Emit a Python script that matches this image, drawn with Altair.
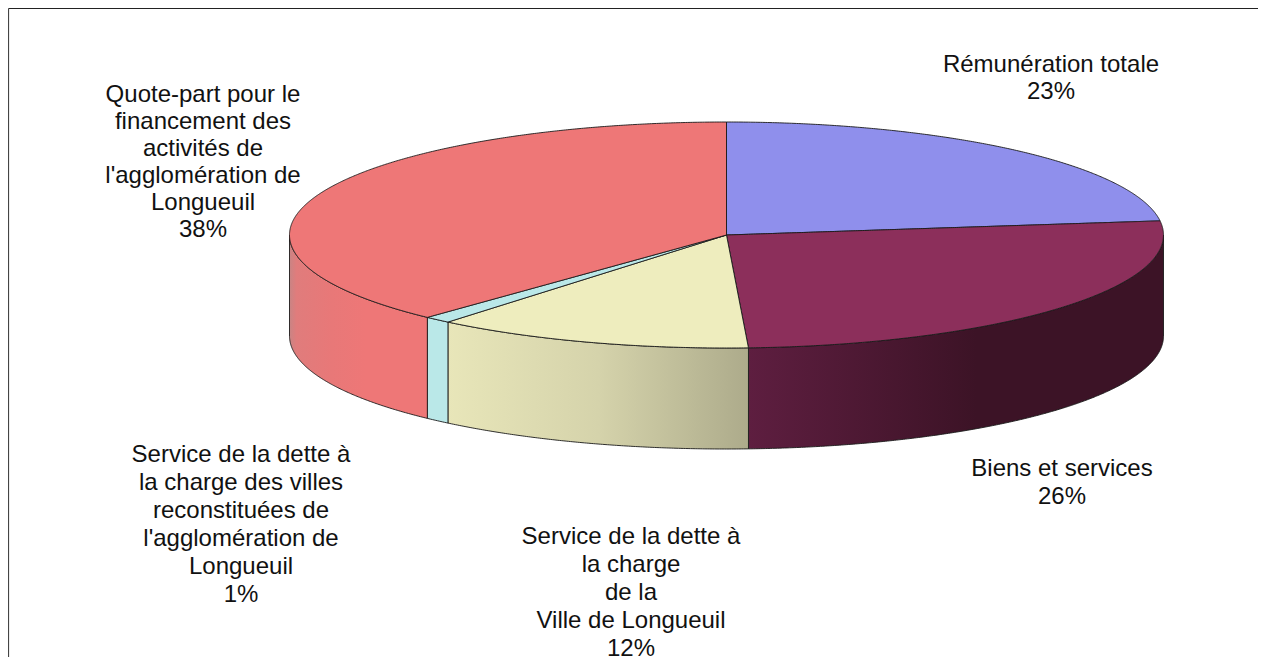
import numpy as np
import pandas as pd
import altair as alt

# Slice values, clockwise from 12 o'clock (percent)
shares = [23.0, 26.2, 11.8, 1.0, 38.0]
top_colors = ["#8F8FEC", "#8C2F5B", "#EEEDBE", "#BAE8E8", "#EE7777"]
side_stops = [
    [("#8F8FEC", 0), ("#8F8FEC", 1)],
    [("#5E1E40", 0), ("#3C1326", 0.55), ("#3C1326", 1)],
    [("#E8E6B9", 0), ("#D5D3AB", 0.5), ("#ADAB8B", 1)],
    [("#BAE8E8", 0), ("#BAE8E8", 1)],
    [("#C98484", 0), ("#E07C7C", 0.05), ("#E87878", 0.3), ("#EE7777", 0.55), ("#EE7777", 1)],
]

label_texts = [
    "Rémunération totale\n23%",
    "Biens et services\n26%",
    "Service de la dette à\nla charge\nde la\nVille de Longueuil\n12%",
    "Service de la dette à\nla charge des villes\nreconstituées de\nl'agglomération de\nLongueuil\n1%",
    "Quote-part pour le\nfinancement des\nactivités de\nl'agglomération de\nLongueuil\n38%",
]
label_x = [1051, 1062, 631, 241, 203]
label_y = [53, 457, 525, 443, 83]
label_line_height = [27, 28, 28, 28, 27]

# Pie geometry
CX, CY, RX, RY, DEPTH = 726.5, 235.0, 437.0, 113.0, 101.0
x_scale = alt.Scale(domain=[8, 1258], nice=False, zero=False)
y_scale = alt.Scale(domain=[657, 8], nice=False, zero=False)
OUTLINE = "#1a1a1a"


def ellipse(t):
    return CX + RX * np.sin(t), CY - RY * np.cos(t)


def wedge_frame(t0, t1):
    """Convex slice as an x-sorted table of upper and lower edges."""
    ts = np.linspace(t0, t1, max(int((t1 - t0) * 180) + 2, 6))
    px, py = ellipse(ts)
    px = np.r_[CX, px]
    py = np.r_[CY, py]
    rows = []
    n = len(px)
    for x in np.unique(np.round(px, 3)):
        hits = []
        for i in range(n):
            a, b = i, (i + 1) % n
            if min(px[a], px[b]) - 1e-3 <= x <= max(px[a], px[b]) + 1e-3:
                if abs(px[b] - px[a]) < 1e-6:
                    hits += [py[a], py[b]]
                else:
                    hits.append(py[a] + (x - px[a]) / (px[b] - px[a]) * (py[b] - py[a]))
        rows.append({"x": float(x), "y": float(min(hits)), "y2": float(max(hits))})
    return pd.DataFrame(rows)


edges = np.cumsum([0.0] + shares) / sum(shares) * 2 * np.pi
layers = []


def enc(chart):
    return chart.encode(
        x=alt.X("x:Q", scale=x_scale, axis=None),
        y=alt.Y("y:Q", scale=y_scale, axis=None),
        y2="y2:Q",
    )


# Side walls
for i in range(len(shares)):
    t0 = max(edges[i], np.pi / 2)
    t1 = min(edges[i + 1], 3 * np.pi / 2)
    if t1 <= t0:
        continue
    ts = np.linspace(t0, t1, max(int((t1 - t0) * 180) + 2, 6))
    px, py = ellipse(ts)
    df = pd.DataFrame({"x": px, "y": py, "y2": py + DEPTH}).sort_values("x")
    grad = alt.Gradient(
        gradient="linear", x1=0, x2=1, y1=0, y2=0,
        stops=[alt.GradientStop(color=c, offset=o) for c, o in side_stops[i]],
    )
    layers.append(enc(alt.Chart(df).mark_area(color=grad, stroke=OUTLINE, strokeWidth=0.9,
                                              interpolate="linear", orient="vertical")))

# Top faces
for i in range(len(shares)):
    df = wedge_frame(edges[i], edges[i + 1])
    layers.append(enc(alt.Chart(df).mark_area(color=top_colors[i], stroke=OUTLINE, strokeWidth=0.9,
                                              interpolate="linear", orient="vertical")))

# Frame, open on the right and at the bottom as in the source picture
frame_top = alt.Chart(pd.DataFrame({"x": [8.5], "x2": [1258], "y": [8.5]})).mark_rule(color="#222222", strokeWidth=1.2).encode(
    x=alt.X("x:Q", scale=x_scale, axis=None), x2="x2:Q", y=alt.Y("y:Q", scale=y_scale, axis=None))
frame_left = alt.Chart(pd.DataFrame({"x": [8.5], "y": [8.5], "y2": [657]})).mark_rule(color="#444444", strokeWidth=1.2).encode(
    x=alt.X("x:Q", scale=x_scale, axis=None), y=alt.Y("y:Q", scale=y_scale, axis=None), y2="y2:Q")

# Labels
label_layers = []
for tx, lx, ly, lh in zip(label_texts, label_x, label_y, label_line_height):
    label_layers.append(
        alt.Chart(pd.DataFrame({"x": [lx], "y": [ly], "label": [tx]})).mark_text(
            font="Liberation Sans", fontSize=24, lineHeight=lh, lineBreak="\n",
            align="center", baseline="top", color="#111111",
        ).encode(
            x=alt.X("x:Q", scale=x_scale, axis=None),
            y=alt.Y("y:Q", scale=y_scale, axis=None),
            text="label:N",
        )
    )

chart = alt.layer(*layers, frame_top, frame_left, *label_layers).properties(
    width=1250, height=649, padding=0,
    autosize=alt.AutoSizeParams(type="none"),
).configure_view(stroke=None)

chart.save("out.html", embed_options={"renderer": "svg", "actions": False})
